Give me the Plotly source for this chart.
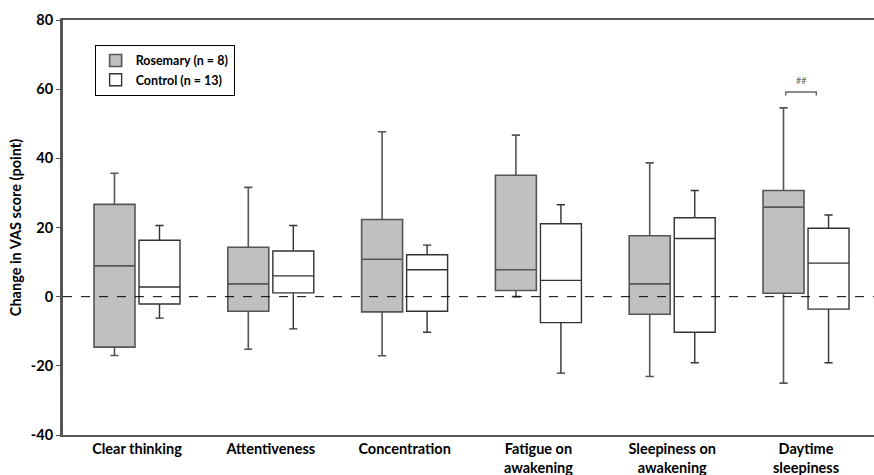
import plotly.graph_objects as go

categories = ["Clear thinking", "Attentiveness", "Concentration",
              "Fatigue on<br>awakening", "Sleepiness on<br>awakening", "Daytime<br>sleepiness"]

# Rosemary (n = 8)
ros_lower = [-17, -15.2, -17.1, 0, -23.1, -25]
ros_q1 = [-14.6, -4.2, -4.4, 1.8, -5.1, 1.0]
ros_median = [8.9, 3.7, 10.8, 7.8, 3.7, 25.9]
ros_q3 = [26.7, 14.3, 22.3, 35.1, 17.6, 30.7]
ros_upper = [35.7, 31.6, 47.7, 46.7, 38.7, 54.6]

# Control (n = 13)
con_lower = [-6.2, -9.3, -10.3, -22.1, -19.1, -19.1]
con_q1 = [-2.1, 1.1, -4.2, -7.5, -10.3, -3.6]
con_median = [2.8, 6.0, 7.8, 4.7, 16.8, 9.7]
con_q3 = [16.3, 13.2, 12.1, 21.1, 22.8, 19.8]
con_upper = [20.6, 20.6, 14.9, 26.6, 30.7, 23.6]

y_ticks = [-40, -20, 0, 20, 40, 60, 80]
y_ticktext = ["-40", "-20", "0", "20", "40", "60", "80"]

FONT = "Lato"

fig = go.Figure()
fig.add_trace(go.Box(
    x=categories, q1=ros_q1, median=ros_median, q3=ros_q3,
    lowerfence=ros_lower, upperfence=ros_upper,
    name="Rosemary (n = 8)", fillcolor="#c0c0c0",
    line=dict(color="#555555", width=1.6), whiskerwidth=0.2,
    boxpoints=False, offsetgroup="r"))
fig.add_trace(go.Box(
    x=categories, q1=con_q1, median=con_median, q3=con_q3,
    lowerfence=con_lower, upperfence=con_upper,
    name="Control (n = 13)", fillcolor="#ffffff",
    line=dict(color="#333333", width=1.4), whiskerwidth=0.2,
    boxpoints=False, offsetgroup="c"))

# zero reference line
fig.add_shape(type="line", xref="paper", x0=0, x1=1, yref="y", y0=0, y1=0,
              line=dict(color="black", width=1, dash="dash"), layer="above")
# significance bracket
fig.add_shape(type="path", xref="x", yref="y",
              path="M 4.848 58.2 L 4.848 59.2 L 5.077 59.2 L 5.077 58.2",
              line=dict(color="#666666", width=1.5))
fig.add_annotation(x=4.962, y=60.2, xref="x", yref="y", text="##", showarrow=False,
                   yanchor="bottom", font=dict(family=FONT, size=9, color="#666666"))

fig.update_layout(
    width=874, height=475,
    margin=dict(l=63, r=0, t=20, b=40),
    plot_bgcolor="white", paper_bgcolor="white",
    boxmode="group", boxgap=0.327, boxgroupgap=0.09,
    font=dict(family=FONT, color="black"),
    showlegend=True,
    legend=dict(x=0.039, y=0.94, xanchor="left", yanchor="top",
                bordercolor="black", borderwidth=1, bgcolor="white",
                font=dict(family=FONT, size=12.5, color="black", weight="bold"),
                itemwidth=30, tracegroupgap=0),
    xaxis=dict(range=[-0.553, 5.508], showline=True, linecolor="#555555", linewidth=2,
               mirror=True, ticks="", showgrid=False, zeroline=False,
               tickfont=dict(family=FONT, size=14.5, color="black", weight="bold")),
    yaxis=dict(range=[-40, 80], tickvals=y_ticks, ticktext=y_ticktext, showline=True,
               linecolor="#555555", linewidth=3, ticks="outside", ticklen=4,
               tickcolor="#555555", showgrid=False, zeroline=False,
               tickfont=dict(family=FONT, size=14.5, color="black", weight="bold"),
               title=dict(text="<b>Change in VAS score (point)</b>",
                          font=dict(family=FONT, size=14.5, color="black"), standoff=6)),
)

fig.write_html("out.html")
